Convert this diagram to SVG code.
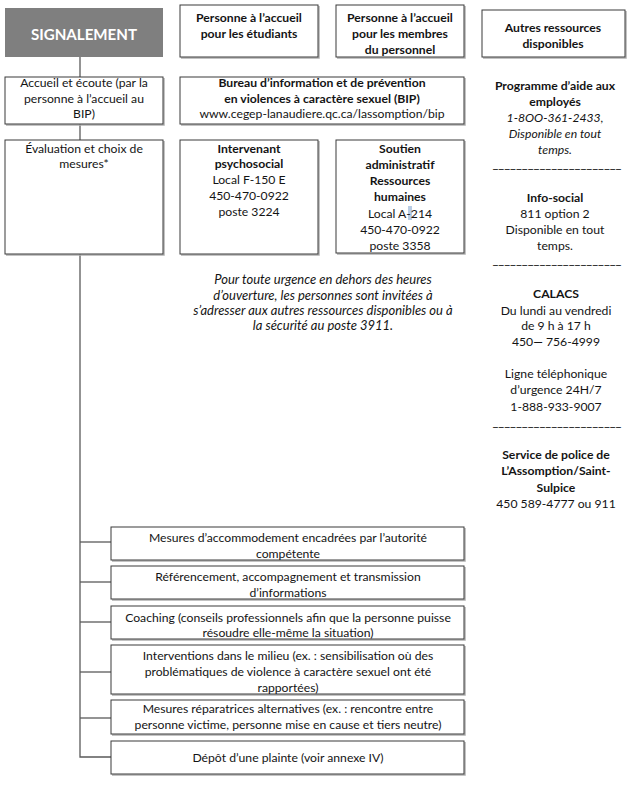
<svg xmlns="http://www.w3.org/2000/svg" width="639" height="785" viewBox="0 0 639 785">
<style>
text{font-family:Lato,"Open Sans","Liberation Sans",sans-serif;font-size:12.2px;fill:#141414;text-anchor:middle;dominant-baseline:central}
.b{font-weight:bold}
.i{font-style:italic}
.p{font-style:italic;font-size:13px}
.box{fill:#fff;stroke:#3a3a3a;stroke-width:1}
.sh{fill:none;stroke:#b0b0b0;stroke-width:1.5}
.conn{fill:none;stroke:#5a5a5a;stroke-width:1.3}
.title{font-size:16px;font-weight:bold;fill:#fff}
.u{font-weight:900;font-size:9px;fill:#222}
</style>
<rect width="639" height="785" fill="#fff"/>
<g id="connectors">
<line class="conn" x1="80" y1="57" x2="80" y2="77"/>
<line class="conn" x1="80" y1="124" x2="80" y2="140"/>
<polyline class="conn" points="80,254 80,757 111,757"/>
<line class="conn" x1="80" y1="542" x2="111" y2="542"/>
<line class="conn" x1="80" y1="582" x2="111" y2="582"/>
<line class="conn" x1="80" y1="622" x2="111" y2="622"/>
<line class="conn" x1="80" y1="672" x2="111" y2="672"/>
<line class="conn" x1="80" y1="718" x2="111" y2="718"/>
</g>
<g id="signalement">
<rect x="5" y="8" width="158" height="49" fill="#7f7f7f"/>
<text class="title" x="84" y="33" textLength="106" lengthAdjust="spacingAndGlyphs">SIGNALEMENT</text>
</g>
<g id="accueil-etudiants">
<polyline class="sh" points="319,6 319,58 181,58"/>
<rect class="box" x="180" y="5" width="138" height="52"/>
<text class="b" x="249" y="17">Personne à l’accueil</text>
<text class="b" x="249" y="33">pour les étudiants</text>
</g>
<g id="accueil-personnel">
<polyline class="sh" points="465,6 465,58 337,58"/>
<rect class="box" x="336" y="5" width="128" height="52"/>
<text class="b" x="400" y="17">Personne à l’accueil</text>
<text class="b" x="400" y="33">pour les membres</text>
<text class="b" x="400" y="49">du personnel</text>
</g>
<g id="autres-ressources">
<polyline class="sh" points="626,11 626,58 483,58"/>
<rect class="box" x="482" y="10" width="143" height="47"/>
<text class="b" x="553" y="27">Autres ressources</text>
<text class="b" x="553" y="43">disponibles</text>
</g>
<g id="accueil-ecoute">
<polyline class="sh" points="164,78 164,125 6,125"/>
<rect class="box" x="5" y="77" width="158" height="47"/>
<text x="84" y="82">Accueil et écoute (par la</text>
<text x="84" y="98">personne à l’accueil au</text>
<text x="84" y="113">BIP)</text>
</g>
<g id="bip">
<polyline class="sh" points="465,78 465,125 181,125"/>
<rect class="box" x="180" y="77" width="284" height="47"/>
<text class="b" x="322" y="82">Bureau d’information et de prévention</text>
<text class="b" x="322" y="98">en violences à caractère sexuel (BIP)</text>
<text x="322" y="113">www.cegep-lanaudiere.qc.ca/lassomption/bip</text>
</g>
<g id="evaluation">
<polyline class="sh" points="164,141 164,255 6,255"/>
<rect class="box" x="5" y="140" width="158" height="114"/>
<text x="84" y="148">Évaluation et choix de</text>
<text x="84" y="163">mesures*</text>
</g>
<g id="intervenant">
<polyline class="sh" points="319,141 319,255 181,255"/>
<rect class="box" x="180" y="140" width="138" height="114"/>
<text class="b" x="249" y="148">Intervenant</text>
<text class="b" x="249" y="163">psychosocial</text>
<text x="249" y="179">Local F-150 E</text>
<text x="249" y="195">450-470-0922</text>
<text x="249" y="211">poste 3224</text>
</g>
<g id="soutien">
<polyline class="sh" points="465,141 465,254 337,254"/>
<rect class="box" x="336" y="140" width="128" height="113"/>
<rect x="408" y="206" width="4" height="14" fill="#b8cce4"/>
<text class="b" x="400" y="148">Soutien</text>
<text class="b" x="400" y="164">administratif</text>
<text class="b" x="400" y="180">Ressources</text>
<text class="b" x="400" y="196">humaines</text>
<text x="400" y="213">Local A-214</text>
<text x="400" y="229">450-470-0922</text>
<text x="400" y="245">poste 3358</text>
</g>
<g id="urgence">
<text class="p" x="323" y="279">Pour toute urgence en dehors des heures</text>
<text class="p" x="323" y="295">d’ouverture, les personnes sont invitées à</text>
<text class="p" x="323" y="310">s’adresser aux autres ressources disponibles ou à</text>
<text class="p" x="323" y="325">la sécurité au poste 3911.</text>
</g>
<g id="ressources-liste">
<text class="b" x="555" y="85">Programme d’aide aux</text>
<text class="b" x="555" y="101">employés</text>
<text class="i" x="555" y="117">1-8OO-361-2433,</text>
<text class="i" x="555" y="133">Disponible en tout</text>
<text class="i" x="555" y="149">temps.</text>
<text class="u" x="557" y="165" textLength="129" lengthAdjust="spacingAndGlyphs">______________________</text>
<text class="b" x="555" y="197">Info-social</text>
<text x="555" y="213">811 option 2</text>
<text x="555" y="229">Disponible en tout</text>
<text x="555" y="245">temps.</text>
<text class="u" x="557" y="261" textLength="129" lengthAdjust="spacingAndGlyphs">______________________</text>
<text class="b" x="556" y="293">CALACS</text>
<text x="556" y="310">Du lundi au vendredi</text>
<text x="556" y="325">de 9 h à 17 h</text>
<text x="556" y="341">450— 756-4999</text>
<text x="556" y="373">Ligne téléphonique</text>
<text x="556" y="389">d’urgence 24H/7</text>
<text x="556" y="406">1-888-933-9007</text>
<text class="u" x="557" y="423" textLength="129" lengthAdjust="spacingAndGlyphs">______________________</text>
<text class="b" x="556" y="454">Service de police de</text>
<text class="b" x="556" y="470">L’Assomption/Saint-</text>
<text class="b" x="556" y="487">Sulpice</text>
<text x="556" y="503">450 589-4777 ou 911</text>
</g>
<g id="mesure-accommodement">
<polyline class="sh" points="465,528 465,561 112,561"/>
<rect class="box" x="111" y="527" width="353" height="33"/>
<text x="288" y="537">Mesures d’accommodement encadrées par l’autorité</text>
<text x="288" y="553">compétente</text>
</g>
<g id="mesure-referencement">
<polyline class="sh" points="465,567 465,600 112,600"/>
<rect class="box" x="111" y="566" width="353" height="33"/>
<text x="288" y="576">Référencement, accompagnement et transmission</text>
<text x="288" y="592">d’informations</text>
</g>
<g id="mesure-coaching">
<polyline class="sh" points="465,607 465,640 112,640"/>
<rect class="box" x="111" y="606" width="353" height="33"/>
<text x="288" y="617">Coaching (conseils professionnels afin que la personne puisse</text>
<text x="288" y="632">résoudre elle-même la situation)</text>
</g>
<g id="mesure-interventions">
<polyline class="sh" points="465,646 465,695 112,695"/>
<rect class="box" x="111" y="645" width="353" height="49"/>
<text x="288" y="655">Interventions dans le milieu (ex. : sensibilisation où des</text>
<text x="288" y="671">problématiques de violence à caractère sexuel ont été</text>
<text x="288" y="687">rapportées)</text>
</g>
<g id="mesure-reparatrices">
<polyline class="sh" points="465,701 465,735 112,735"/>
<rect class="box" x="111" y="700" width="353" height="34"/>
<text x="288" y="708">Mesures réparatrices alternatives (ex. : rencontre entre</text>
<text x="288" y="724">personne victime, personne mise en cause et tiers neutre)</text>
</g>
<g id="mesure-plainte">
<polyline class="sh" points="465,742 465,775 112,775"/>
<rect class="box" x="111" y="741" width="353" height="33"/>
<text x="288" y="757">Dépôt d’une plainte (voir annexe IV)</text>
</g>
</svg>
